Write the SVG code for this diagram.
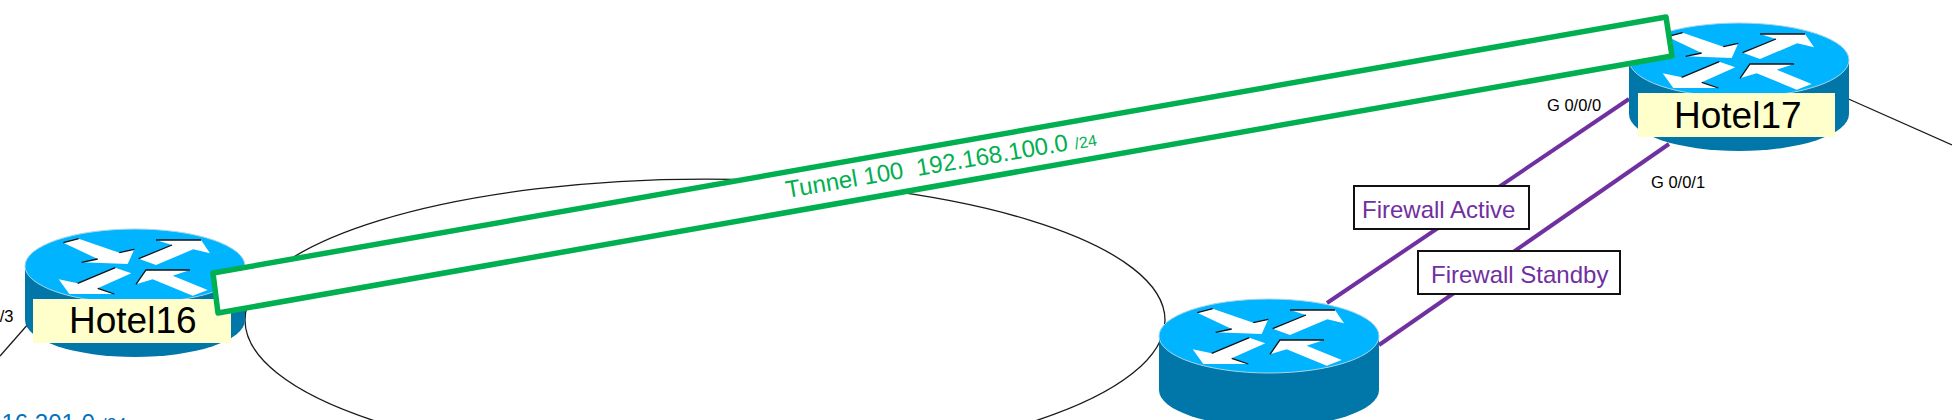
<svg xmlns="http://www.w3.org/2000/svg" width="1952" height="420" viewBox="0 0 1952 420">
<style>
text{font-family:"Liberation Sans",Arial,sans-serif}
.wire{fill:none;stroke:#1a1a1a;stroke-width:1.3}
.fw{fill:none;stroke:#7030a0;stroke-width:4}
.lab{fill:#ffffcc}
.name{font-size:37px;fill:#000}
.port{font-size:16.5px;fill:#000}
.box{fill:#fff;stroke:#111;stroke-width:2}
.fwt{font-size:24px;fill:#7030a0}
.sh{fill:none;stroke:#111;stroke-width:1.3}
.tun{font-size:24px;fill:#00b050}
</style>
<defs>
<g id="router">
<path d="M-110,0V54A110,37 0 0 0 110,54V0Z" fill="#0077a8"/>
<ellipse rx="110" ry="37" fill="#00b4ff" stroke="#a8d4e8" stroke-width="1"/>
<path d="M-71.7,-23.3L-56.3,-27.3L-15.7,-13.3L-.7,-16.7L-7.3,-2L-53.3,-3.7L-37.3,-7Z" fill="#fff"/>
<path d="M21,-26H66L75,-12.7L58.3,-16.7L21,-1L3.7,-7.3L37,-21Z" fill="#fff"/>
<path d="M-76.3,13.3L-57.3,17.3L-19.7,1.7L-3.7,7.3L-37.3,22.3L-20.7,28H-65.7Z" fill="#fff"/>
<path d="M1,18.3L11,4H55L37.7,9.7L72.7,24L57.7,29.7L17.7,13.3Z" fill="#fff"/>
<path class="sh" d="M-71.7,-23.3L-56.3,-27.3M-15.7,-13.3L-.7,-16.7M-53.3,-3.7L-37.3,-7M21,-26H66M3.7,-7.3L37,-21M-57.3,17.3L-19.7,1.7M1,18.3L11,4H55M-37.3,22.3L-20.7,28"/>
</g>
</defs>
<g id="connectors">
<path class="wire" d="M245,320A460,141 0 0 1 1165,320A460,145 0 0 1 245,320Z"/>
<path class="wire" d="M29,323L0,356"/>
<path class="wire" d="M1835,93L1952,145"/>
<path class="fw" d="M1327,303L1629,99"/>
<path class="fw" d="M1379,345L1669,144"/>
</g>
<g id="hotel16">
<use href="#router" x="135" y="266"/>
<rect class="lab" x="33" y="299" width="198" height="44"/>
<text class="name" x="69" y="333">Hotel16</text>
</g>
<g id="router-center">
<use href="#router" x="1269" y="336"/>
</g>
<g id="hotel17">
<use href="#router" x="1739" y="60"/>
<rect class="lab" x="1638" y="93" width="197" height="44"/>
<text class="name" x="1674" y="128">Hotel17</text>
</g>
<g id="tunnel">
<path d="M213,273L1666,17L1672,56L218,313Z" fill="#fff" stroke="#00b050" stroke-width="5.5" stroke-linejoin="round"/>
<text class="tun" transform="translate(787,198) rotate(-9.6)" xml:space="preserve">Tunnel 100  192.168.100.0 <tspan font-size="16">/24</tspan></text>
</g>
<g id="firewall-active">
<rect class="box" x="1354" y="186" width="175" height="43"/>
<text class="fwt" x="1362" y="218">Firewall Active</text>
</g>
<g id="firewall-standby">
<rect class="box" x="1418" y="251" width="202" height="43"/>
<text class="fwt" x="1431" y="283">Firewall Standby</text>
</g>
<g id="labels">
<text class="port" x="1547" y="111">G 0/0/0</text>
<text class="port" x="1651" y="188">G 0/0/1</text>
<text class="port" x="13.5" y="322" text-anchor="end">/3</text>
<text x="1.5" y="431" font-size="24" fill="#0070c0">16.201.0 <tspan font-size="18">/24</tspan></text>
</g>
</svg>
